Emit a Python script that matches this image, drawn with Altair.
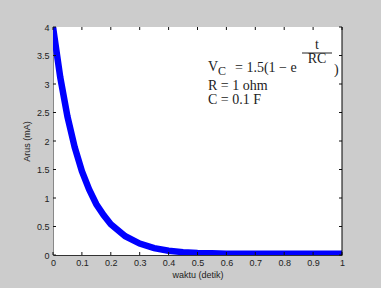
import altair as alt
import pandas as pd

# data
t_vals = [0.0, 0.025, 0.05, 0.075, 0.1, 0.125, 0.15, 0.175, 0.2, 0.25, 0.3, 0.35, 0.4, 0.45, 0.5, 0.55, 0.6, 0.7, 0.8, 0.9, 1.0]
i_vals = [4.0, 3.12, 2.43, 1.89, 1.47, 1.15, 0.89, 0.70, 0.54, 0.33, 0.20, 0.12, 0.075, 0.05, 0.035, 0.03, 0.02, 0.02, 0.02, 0.02, 0.02]
x_ticks = [0, 0.1, 0.2, 0.3, 0.4, 0.5, 0.6, 0.7, 0.8, 0.9, 1.0]
y_ticks = [0, 0.5, 1, 1.5, 2, 2.5, 3, 3.5, 4]
info_lines = ["R = 1 ohm", "C = 0.1 F"]

W, H = 289, 228
curve = pd.DataFrame({"t": t_vals, "i": i_vals})
xt = pd.DataFrame({"t": x_ticks})
yt = pd.DataFrame({"i": y_ticks})
one = pd.DataFrame({"k": [0]})

xs = alt.Scale(domain=[0, 1], nice=False)
ys = alt.Scale(domain=[0, 4], nice=False)

lab = dict(labelFont="Liberation Sans", labelFontSize=9, labelColor="#222222",
           titleFont="Liberation Sans", titleFontSize=9, titleFontWeight="normal",
           titleColor="#222222", ticks=False, format="~g", labelOverlap=False,
           labelFlush=False, grid=False)
x_axis = alt.Axis(values=x_ticks, title="waktu (detik)", labelPadding=3,
                  titlePadding=3, domainColor="#333333", **lab)
y_axis = alt.Axis(values=y_ticks, title="Arus (mA)", labelPadding=4,
                  titlePadding=5, domainColor="#888888", **lab)

line = alt.Chart(curve).mark_line(color="#0000ff", strokeWidth=6.5, clip=True).encode(
    x=alt.X("t:Q", scale=xs, axis=x_axis),
    y=alt.Y("i:Q", scale=ys, axis=y_axis),
)

tick_col = "#111111"
bx = alt.Chart(xt).mark_rule(color=tick_col, strokeWidth=1).encode(
    x=alt.X("t:Q", scale=xs, axis=x_axis), y=alt.value(H), y2=alt.value(H - 3))
tx = alt.Chart(xt).mark_rule(color=tick_col, strokeWidth=1).encode(
    x=alt.X("t:Q", scale=xs, axis=x_axis), y=alt.value(0), y2=alt.value(3))
ly = alt.Chart(yt).mark_rule(color=tick_col, strokeWidth=1).encode(
    y=alt.Y("i:Q", scale=ys, axis=y_axis), x=alt.value(0), x2=alt.value(3))
ry = alt.Chart(yt).mark_rule(color=tick_col, strokeWidth=1).encode(
    y=alt.Y("i:Q", scale=ys, axis=y_axis), x=alt.value(W), x2=alt.value(W - 3))
right_border = alt.Chart(one).mark_rule(color="#000000", strokeWidth=1).encode(
    x=alt.value(W), y=alt.value(0), y2=alt.value(H))

serif = "Liberation Serif"
col = "#222222"

def txt(s, x, y, size=14, align="left", **kw):
    return alt.Chart(one).mark_text(text=s, font=serif, fontSize=size, color=col,
                                    align=align, baseline="alphabetic", **kw).encode(
        x=alt.value(x), y=alt.value(y))

texts = [
    txt("V", 155, 44),
    txt("C", 165, 48, size=12),
    txt("= 1.5(1 \u2212 e", 182, 45),
    txt("t", 264, 22, align="center"),
    txt("RC", 264, 36, align="center"),
    txt(")", 281, 47),
    txt(info_lines[0], 155, 63),
    txt(info_lines[1], 155, 77),
]
frac = alt.Chart(one).mark_rule(color=col, strokeWidth=1).encode(
    x=alt.value(249), x2=alt.value(279), y=alt.value(26))

chart = alt.layer(line, bx, tx, ly, ry, right_border, frac, *texts).properties(
    width=W, height=H,
    autosize=alt.AutoSizeParams(type="none"),
    padding={"left": 53, "top": 27, "right": 39, "bottom": 33},
    background="#cccccc",
).configure_view(fill="#ffffff", stroke=None)

chart.save("out.html", embed_options={"renderer": "svg", "actions": False})
